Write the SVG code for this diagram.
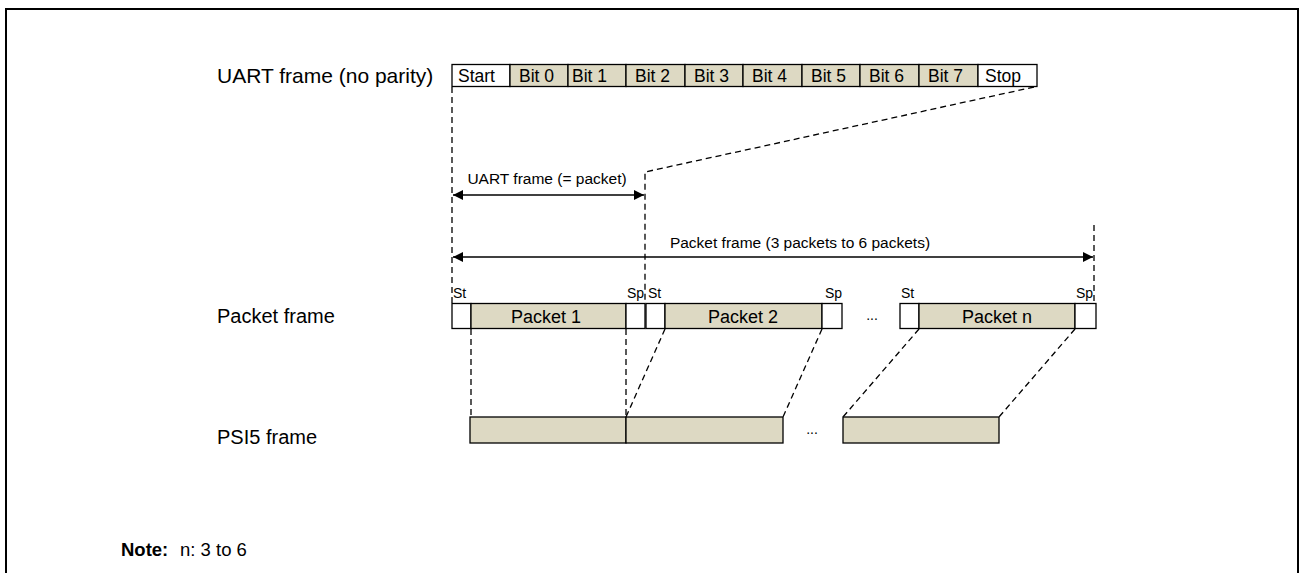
<svg xmlns="http://www.w3.org/2000/svg" width="1301" height="573" viewBox="0 0 1301 573">
<style>
text{font-family:"Liberation Sans",Arial,sans-serif;fill:#000}
.lbl{font-size:20px}
.cell{font-size:17.5px}
.pk{font-size:18px;text-anchor:middle}
.sm{font-size:14px}
.al{font-size:15.5px;text-anchor:middle}
.b{stroke:#000;stroke-width:1.3}
.w{fill:#fff}
.t{fill:#DDD9C3}
.d{stroke:#000;stroke-width:1.3;stroke-dasharray:6,4;fill:none}
.ar{stroke:#000;stroke-width:1.5;fill:none}
</style>
<defs>
<marker id="ah" viewBox="0 0 10 10" refX="10" refY="5" markerWidth="10" markerHeight="10" markerUnits="userSpaceOnUse" orient="auto-start-reverse">
<path d="M0,0 L10,5 L0,10 Z" fill="#000"/>
</marker>
</defs>
<path d="M6,573 V9 H1298 V573" fill="none" stroke="#000" stroke-width="2"/>

<text x="217" y="83" font-size="21">UART frame (no parity)</text>
<text class="lbl" x="217" y="323">Packet frame</text>
<text class="lbl" x="217" y="444">PSI5 frame</text>

<g id="uart">
<rect class="b w" x="452" y="64.5" width="58" height="22"/>
<rect class="b t" x="510" y="64.5" width="58" height="22"/>
<rect class="b t" x="568" y="64.5" width="58" height="22"/>
<rect class="b t" x="626" y="64.5" width="59" height="22"/>
<rect class="b t" x="685" y="64.5" width="58" height="22"/>
<rect class="b t" x="743" y="64.5" width="59" height="22"/>
<rect class="b t" x="802" y="64.5" width="58" height="22"/>
<rect class="b t" x="860" y="64.5" width="59" height="22"/>
<rect class="b t" x="919" y="64.5" width="59" height="22"/>
<rect class="b w" x="978" y="64.5" width="59" height="22"/>
<text class="cell" x="458" y="82">Start</text>
<text class="cell" x="519" y="82">Bit 0</text>
<text class="cell" x="572" y="82">Bit 1</text>
<text class="cell" x="635" y="82">Bit 2</text>
<text class="cell" x="694" y="82">Bit 3</text>
<text class="cell" x="752" y="82">Bit 4</text>
<text class="cell" x="811" y="82">Bit 5</text>
<text class="cell" x="869" y="82">Bit 6</text>
<text class="cell" x="928" y="82">Bit 7</text>
<text class="cell" x="985" y="82">Stop</text>
</g>

<g id="packets">
<rect class="b w" x="452" y="303.5" width="19" height="25"/>
<rect class="b t" x="471" y="303.5" width="155" height="25"/>
<rect class="b w" x="626" y="303.5" width="19" height="25"/>
<text class="pk" x="546" y="323">Packet 1</text>
<rect class="b w" x="646" y="303.5" width="19" height="25"/>
<rect class="b t" x="665" y="303.5" width="157" height="25"/>
<rect class="b w" x="822" y="303.5" width="20" height="25"/>
<text class="pk" x="743" y="323">Packet 2</text>
<rect class="b w" x="900" y="303.5" width="19" height="25"/>
<rect class="b t" x="919" y="303.5" width="156" height="25"/>
<rect class="b w" x="1075" y="303.5" width="21" height="25"/>
<text class="pk" x="997" y="323">Packet n</text>
<text class="sm" x="453" y="298">St</text>
<text class="sm" x="644" y="298" text-anchor="end">Sp</text>
<text class="sm" x="648" y="298">St</text>
<text class="sm" x="842" y="298" text-anchor="end">Sp</text>
<text class="sm" x="901" y="298">St</text>
<text class="sm" x="1093" y="298" text-anchor="end">Sp</text>
<text class="sm" x="872" y="320" text-anchor="middle">...</text>
</g>

<g id="psi5">
<rect class="b t" x="470" y="417" width="156" height="26"/>
<rect class="b t" x="626" y="417" width="157" height="26"/>
<rect class="b t" x="843" y="417" width="156" height="26"/>
<text class="sm" x="812" y="434" text-anchor="middle">...</text>
</g>

<g id="connectors">
<path class="d" d="M452,87 V303"/>
<path class="d" d="M1034,87 L645,172 V303"/>
<path class="d" d="M1094,225 V303"/>
<path class="d" d="M471,329 V417"/>
<path class="d" d="M626,329 V417"/>
<path class="d" d="M665,329 L626,417"/>
<path class="d" d="M822,329 L783,417"/>
<path class="d" d="M919,329 L843,417"/>
<path class="d" d="M1075,329 L999,417"/>
<line class="ar" x1="453" y1="195" x2="644" y2="195" marker-start="url(#ah)" marker-end="url(#ah)"/>
<line class="ar" x1="453" y1="257" x2="1093" y2="257" marker-start="url(#ah)" marker-end="url(#ah)"/>
<text class="al" x="547" y="184">UART frame (= packet)</text>
<text class="al" x="800" y="248">Packet frame (3 packets to 6 packets)</text>
</g>

<text x="121" y="556" font-size="18.5" font-weight="bold">Note:</text>
<text x="180" y="556" font-size="18.5">n: 3 to 6</text>
</svg>
